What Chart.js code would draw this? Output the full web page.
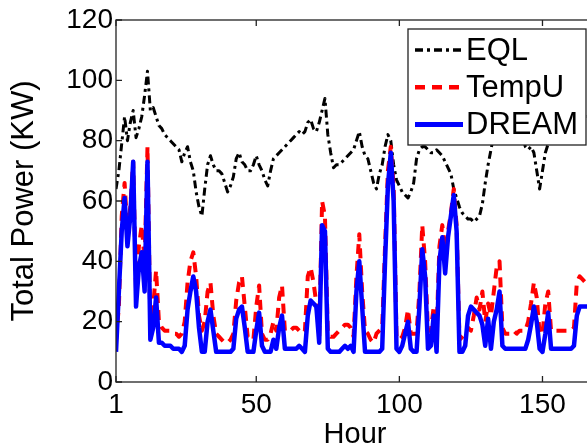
<!DOCTYPE html>
<html>
<head>
<meta charset="utf-8">
<script src="https://cdn.jsdelivr.net/npm/chart.js@4.4.1/dist/chart.umd.min.js"></script>
<style>
  html, body { margin: 0; padding: 0; background: #fff; overflow: hidden; }
  #wrap { width: 587px; height: 448px; overflow: hidden; }
  canvas { display: block; }
</style>
</head>
<body>
<div id="wrap"><canvas id="chart" width="600" height="452"></canvas></div>
<script>
// hour index of the week (x categories)
const hours = Array.from({ length: 168 }, (_, i) => i + 1);
const xTicks = [1, 50, 100, 150];
const yTicks = [0, 20, 40, 60, 80, 100, 120];

// values (KW)
const eql = [
  64, 70, 79, 88, 80, 86, 90, 81, 84, 88,
  95, 103, 90, 91, 88, 85, 84, 82, 81, 80,
  79, 78, 77, 73, 76, 78, 73, 70, 63, 58,
  55, 64, 72, 75, 72, 70, 70, 69, 66, 63,
  65, 68, 74, 76, 73, 72, 70, 70, 72, 75,
  72, 70, 67, 65, 70, 74, 75, 76, 77, 78,
  79, 80, 81, 82, 83, 82, 83, 86, 87, 84,
  83, 86, 90, 94, 82, 76, 71, 72, 72, 73,
  74, 75, 76, 77, 80, 83, 78, 75, 74, 70,
  66, 64, 69, 72, 78, 82, 80, 72, 67, 65,
  63, 62, 61, 63, 66, 74, 77, 78, 78, 77,
  76, 76, 77, 76, 75, 73, 71, 69, 64, 61,
  58, 56, 55, 54, 54, 53, 54, 55, 59, 66,
  72, 77, 82, 86, 90, 92, 94, 95, 93, 90,
  88, 85, 82, 78, 77, 78, 76, 70, 64, 70,
  76, 79, 82, 86, 88, 90, 91, 90, 88, 87,
  86, 88, 90, 89, 88, 88, 87, 86
];
const tempU = [
  14, 25, 55, 66, 50, 58, 73, 30, 45, 52,
  40, 78, 18, 25, 37, 20, 18, 17, 17, 17,
  16, 16, 15, 16, 20, 33, 40, 43, 35, 22,
  17, 20, 30, 33, 22, 16, 15, 14, 13, 13,
  14, 16, 27, 33, 35, 25, 15, 14, 14, 25,
  32, 16, 14, 14, 16, 20, 17, 28, 32, 17,
  17, 17, 18, 18, 17, 16, 17, 35, 38, 33,
  26, 15, 60, 55, 16, 15, 15, 16, 17, 18,
  19, 19, 18, 15, 35, 49, 30, 17, 16, 14,
  13, 16, 17, 18, 45, 70, 78, 65, 15, 14,
  15, 18, 24, 16, 16, 16, 30, 52, 40, 17,
  17, 25, 17, 45, 52, 44, 50, 56, 64, 52,
  14, 15, 16, 18, 17, 22, 28, 24, 30, 20,
  26, 22, 30, 38, 40, 18, 16, 16, 16, 17,
  16, 17, 17, 17, 20, 26, 33, 28, 16, 16,
  26, 30, 17, 17, 17, 17, 17, 17, 17, 17,
  18, 33, 35, 34, 33, 33, 33, 33
];
const dream = [
  10, 30, 50, 61, 45, 55, 73, 25, 38, 43,
  30, 73, 14, 18, 28, 13, 13, 12, 12, 12,
  11, 11, 11, 10, 12, 24, 30, 35, 30, 18,
  10, 10, 20, 24, 17, 10, 10, 10, 10, 10,
  10, 11, 21, 24, 25, 18, 10, 10, 10, 17,
  23, 12, 10, 10, 10, 14, 11, 18, 22, 11,
  11, 11, 11, 11, 12, 11, 10, 22, 27, 26,
  25, 13, 52, 50, 11, 10, 10, 10, 10, 11,
  12, 11, 12, 10, 30, 40, 25, 10, 10, 10,
  10, 10, 10, 11, 40, 65, 76, 60, 11, 10,
  12, 16, 20, 11, 10, 10, 25, 44, 35, 11,
  12, 22, 10, 40, 48, 36, 48, 55, 62, 50,
  10, 10, 12, 22, 25, 24, 23, 22, 19, 12,
  21, 11, 20, 24, 30, 12, 11, 11, 11, 11,
  11, 11, 11, 11, 14, 19, 25, 20, 11, 10,
  16, 23, 11, 11, 11, 11, 11, 11, 11, 11,
  12, 22, 25, 25, 25, 25, 25, 25
];

const toPoints = (vals) => vals.map((v, i) => ({ x: hours[i], y: v }));
const FONT = "'Liberation Sans', Arial, Helvetica, sans-serif";

// matlab style box, inward ticks and boxed legend
const matlabAxes = {
    id: 'matlabAxes',
    afterDatasetsDraw(chart) {
        const { ctx, chartArea: a, scales } = chart;
        const x = scales.x;
        const y = scales.y;
        ctx.save();
        ctx.strokeStyle = '#222';
        ctx.lineWidth = 1.3;
        ctx.strokeRect(a.left, a.top, a.right - a.left, a.bottom - a.top);
        ctx.beginPath();
        xTicks.forEach((v) => {
            const px = x.getPixelForValue(v);
            ctx.moveTo(px, a.bottom);
            ctx.lineTo(px, a.bottom - 6);
            ctx.moveTo(px, a.top);
            ctx.lineTo(px, a.top + 6);
        });
        yTicks.forEach((v) => {
            const py = y.getPixelForValue(v);
            ctx.moveTo(a.left, py);
            ctx.lineTo(a.left + 6, py);
            ctx.moveTo(a.right, py);
            ctx.lineTo(a.right - 6, py);
        });
        ctx.stroke();

        // legend box
        const box = { left: 408, top: 29, width: 178, height: 116 };
        ctx.fillStyle = '#fff';
        ctx.fillRect(box.left, box.top, box.width, box.height);
        ctx.lineWidth = 1.3;
        ctx.strokeStyle = '#222';
        ctx.strokeRect(box.left, box.top, box.width, box.height);
        chart.data.datasets.forEach((ds, i) => {
            const ly = 50 + i * 37.2;
            ctx.save();
            ctx.strokeStyle = ds.borderColor;
            ctx.lineWidth = ds.borderWidth + 0.5;
            ctx.setLineDash(ds.borderDash || []);
            ctx.beginPath();
            ctx.moveTo(415, ly);
            ctx.lineTo(463, ly);
            ctx.stroke();
            ctx.restore();
            ctx.fillStyle = '#000';
            ctx.font = `31px ${FONT}`;
            ctx.textBaseline = 'middle';
            ctx.textAlign = 'left';
            ctx.fillText(ds.label, 466, ly + 1);
        });
        ctx.restore();
    }
};

new Chart(document.getElementById('chart'), {
    type: 'line',
    plugins: [matlabAxes],
    data: {
        datasets: [
            {
                label: 'EQL',
                data: toPoints(eql),
                borderColor: '#000000',
                borderWidth: 3,
                borderDash: [8, 4, 3, 4],
                order: 2
            },
            {
                label: 'TempU',
                data: toPoints(tempU),
                borderColor: '#ff0000',
                borderWidth: 4,
                borderDash: [10, 7],
                order: 1
            },
            {
                label: 'DREAM',
                data: toPoints(dream),
                borderColor: '#0000ff',
                borderWidth: 4.5,
                order: 0
            }
        ]
    },
    options: {
        responsive: false,
        animation: false,
        events: [],
        layout: { padding: { top: 20, right: 6, left: 0, bottom: 0 } },
        elements: {
            point: { radius: 0 },
            line: { tension: 0, borderJoinStyle: 'round', borderCapStyle: 'butt' }
        },
        plugins: {
            legend: { display: false },
            tooltip: { enabled: false }
        },
        scales: {
            x: {
                type: 'linear',
                min: 1,
                max: 168,
                grid: { display: false, drawTicks: false },
                border: { display: false },
                afterBuildTicks: (scale) => {
                    scale.ticks = xTicks.map((value) => ({ value }));
                },
                afterFit: (scale) => {
                    scale.height = 70;
                },
                ticks: {
                    autoSkip: false,
                    maxRotation: 0,
                    padding: 6,
                    color: '#000',
                    font: { family: FONT, size: 28 }
                },
                title: {
                    display: true,
                    text: 'Hour',
                    color: '#000',
                    padding: { top: 0, bottom: 0 },
                    font: { family: FONT, size: 29 }
                }
            },
            y: {
                min: 0,
                max: 120,
                grid: { display: false, drawTicks: false },
                border: { display: false },
                afterBuildTicks: (scale) => {
                    scale.ticks = yTicks.map((value) => ({ value }));
                },
                afterFit: (scale) => {
                    scale.width = 116;
                },
                ticks: {
                    padding: 3,
                    color: '#000',
                    font: { family: FONT, size: 28 }
                },
                title: {
                    display: true,
                    text: 'Total Power (KW)',
                    color: '#000',
                    padding: { top: 6, bottom: 0 },
                    font: { family: FONT, size: 31 }
                }
            }
        }
    }
});
</script>
</body>
</html>
